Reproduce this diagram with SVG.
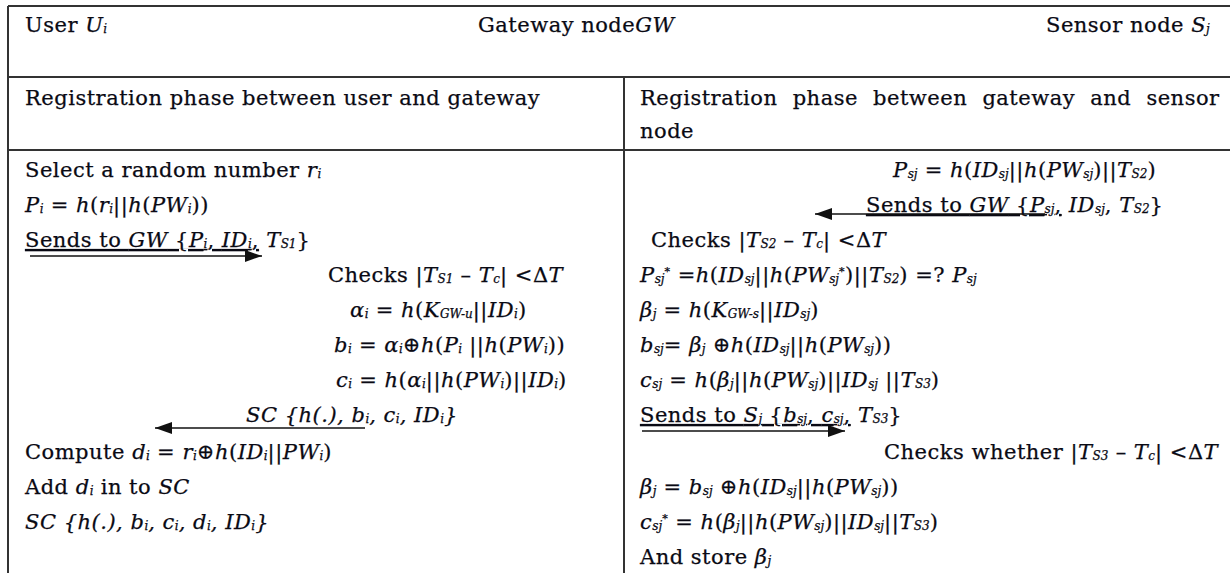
<svg xmlns="http://www.w3.org/2000/svg" width="1230" height="573" viewBox="0 0 1230 573">
<style>
.bg{fill:#ffffff}
.grid{stroke:#333;stroke-width:2;fill:none}
.t{font-family:"DejaVu Serif","Liberation Serif",serif;font-size:21px;letter-spacing:0.5px;fill:#0a0a14;stroke:#0a0a14;stroke-width:0.25}
.i{font-style:italic}
.s{font-size:12px;letter-spacing:0;baseline-shift:-1px}
.p{font-size:11px;baseline-shift:7px}
.u{text-decoration:underline}
.arr{stroke:#111;stroke-width:1.6;fill:none}
</style>
<defs>
<marker id="ah" markerUnits="userSpaceOnUse" markerWidth="18" markerHeight="12" refX="17" refY="6" orient="auto">
<path d="M0,0 L17,6 L0,12 Z" fill="#111"/>
</marker>
</defs>
<rect class="bg" x="0" y="0" width="1230" height="573"/>
<g id="table">
<line class="grid" x1="8" y1="6" x2="1230" y2="6"/>
<line class="grid" x1="8" y1="6" x2="8" y2="573"/>
<line class="grid" x1="8" y1="77" x2="1230" y2="77"/>
<line class="grid" x1="8" y1="150" x2="1230" y2="150"/>
<line class="grid" x1="624" y1="77" x2="624" y2="573"/>
</g>
<g id="header" class="t">
<text x="25" y="32">User <tspan class="i">U</tspan><tspan class="i s">i</tspan></text>
<text x="478" y="32">Gateway node<tspan class="i">GW</tspan></text>
<text x="1046" y="32">Sensor node <tspan class="i">S</tspan><tspan class="i s">j</tspan></text>
</g>
<g id="phase-user" class="t">
<text x="25" y="105">Registration phase between user and gateway</text>
</g>
<g id="phase-sensor" class="t">
<text x="640" y="105" word-spacing="8">Registration phase between gateway and sensor</text>
<text x="640" y="138">node</text>
</g>
<g id="user-gateway" class="t">
<text x="25" y="177">Select a random number <tspan class="i">r</tspan><tspan class="i s">i</tspan></text>
<text x="25" y="212"><tspan class="i">P</tspan><tspan class="i s">i</tspan> = <tspan class="i">h</tspan>(<tspan class="i">r</tspan><tspan class="i s">i</tspan>||<tspan class="i">h</tspan>(<tspan class="i">PW</tspan><tspan class="i s">i</tspan>))</text>
<text x="25" y="247"><tspan class="u">Sends to <tspan class="i">GW</tspan> {<tspan class="i">P</tspan><tspan class="i s">i</tspan>, <tspan class="i">ID</tspan><tspan class="i s">i</tspan>,</tspan> <tspan class="i">T</tspan><tspan class="i s">S1</tspan>}</text>
<text x="328" y="282">Checks |<tspan class="i">T</tspan><tspan class="i s">S1</tspan> – <tspan class="i">T</tspan><tspan class="i s">c</tspan>| &lt;Δ<tspan class="i">T</tspan></text>
<text x="350" y="317"><tspan class="i">α</tspan><tspan class="i s">i</tspan> = <tspan class="i">h</tspan>(<tspan class="i">K</tspan><tspan class="i s">GW-u</tspan>||<tspan class="i">ID</tspan><tspan class="i s">i</tspan>)</text>
<text x="334" y="352"><tspan class="i">b</tspan><tspan class="i s">i</tspan> = <tspan class="i">α</tspan><tspan class="i s">i</tspan>⊕<tspan class="i">h</tspan>(<tspan class="i">P</tspan><tspan class="i s">i</tspan> ||<tspan class="i">h</tspan>(<tspan class="i">PW</tspan><tspan class="i s">i</tspan>))</text>
<text x="336" y="387"><tspan class="i">c</tspan><tspan class="i s">i</tspan> = <tspan class="i">h</tspan>(<tspan class="i">α</tspan><tspan class="i s">i</tspan>||<tspan class="i">h</tspan>(<tspan class="i">PW</tspan><tspan class="i s">i</tspan>)||<tspan class="i">ID</tspan><tspan class="i s">i</tspan>)</text>
<text x="246" y="422" class="i">SC {h(.), b<tspan class="s">i</tspan>, c<tspan class="s">i</tspan>, ID<tspan class="s">i</tspan>}</text>
<text x="25" y="459">Compute <tspan class="i">d</tspan><tspan class="i s">i</tspan> = <tspan class="i">r</tspan><tspan class="i s">i</tspan>⊕<tspan class="i">h</tspan>(<tspan class="i">ID</tspan><tspan class="i s">i</tspan>||<tspan class="i">PW</tspan><tspan class="i s">i</tspan>)</text>
<text x="25" y="494">Add <tspan class="i">d</tspan><tspan class="i s">i</tspan> in to <tspan class="i">SC</tspan></text>
<text x="25" y="529" class="i">SC {h(.), b<tspan class="s">i</tspan>, c<tspan class="s">i</tspan>, d<tspan class="s">i</tspan>, ID<tspan class="s">i</tspan>}</text>
</g>
<g id="gateway-sensor" class="t">
<text x="893" y="177"><tspan class="i">P</tspan><tspan class="i s">sj</tspan> = <tspan class="i">h</tspan>(<tspan class="i">ID</tspan><tspan class="i s">sj</tspan>||<tspan class="i">h</tspan>(<tspan class="i">PW</tspan><tspan class="i s">sj</tspan>)||<tspan class="i">T</tspan><tspan class="i s">S2</tspan>)</text>
<text x="866" y="212"><tspan class="u">Sends to <tspan class="i">GW</tspan> {<tspan class="i">P</tspan><tspan class="i s">sj</tspan>,</tspan> <tspan class="i">ID</tspan><tspan class="i s">sj</tspan>, <tspan class="i">T</tspan><tspan class="i s">S2</tspan>}</text>
<text x="651" y="247">Checks |<tspan class="i">T</tspan><tspan class="i s">S2</tspan> – <tspan class="i">T</tspan><tspan class="i s">c</tspan>| &lt;Δ<tspan class="i">T</tspan></text>
<text x="640" y="282"><tspan class="i">P</tspan><tspan class="i s">sj</tspan><tspan class="p">*</tspan> =<tspan class="i">h</tspan>(<tspan class="i">ID</tspan><tspan class="i s">sj</tspan>||<tspan class="i">h</tspan>(<tspan class="i">PW</tspan><tspan class="i s">sj</tspan><tspan class="p">*</tspan>)||<tspan class="i">T</tspan><tspan class="i s">S2</tspan>) =? <tspan class="i">P</tspan><tspan class="i s">sj</tspan></text>
<text x="640" y="317"><tspan class="i">β</tspan><tspan class="i s">j</tspan> = <tspan class="i">h</tspan>(<tspan class="i">K</tspan><tspan class="i s">GW-s</tspan>||<tspan class="i">ID</tspan><tspan class="i s">sj</tspan>)</text>
<text x="640" y="352"><tspan class="i">b</tspan><tspan class="i s">sj</tspan>= <tspan class="i">β</tspan><tspan class="i s">j</tspan> ⊕<tspan class="i">h</tspan>(<tspan class="i">ID</tspan><tspan class="i s">sj</tspan>||<tspan class="i">h</tspan>(<tspan class="i">PW</tspan><tspan class="i s">sj</tspan>))</text>
<text x="640" y="387"><tspan class="i">c</tspan><tspan class="i s">sj</tspan> = <tspan class="i">h</tspan>(<tspan class="i">β</tspan><tspan class="i s">j</tspan>||<tspan class="i">h</tspan>(<tspan class="i">PW</tspan><tspan class="i s">sj</tspan>)||<tspan class="i">ID</tspan><tspan class="i s">sj</tspan> ||<tspan class="i">T</tspan><tspan class="i s">S3</tspan>)</text>
<text x="640" y="422"><tspan class="u">Sends to <tspan class="i">S</tspan><tspan class="i s">j</tspan> {<tspan class="i">b</tspan><tspan class="i s">sj</tspan>, <tspan class="i">c</tspan><tspan class="i s">sj</tspan>,</tspan> <tspan class="i">T</tspan><tspan class="i s">S3</tspan>}</text>
<text x="884" y="459">Checks whether |<tspan class="i">T</tspan><tspan class="i s">S3</tspan> – <tspan class="i">T</tspan><tspan class="i s">c</tspan>| &lt;Δ<tspan class="i">T</tspan></text>
<text x="640" y="494"><tspan class="i">β</tspan><tspan class="i s">j</tspan> = <tspan class="i">b</tspan><tspan class="i s">sj</tspan>  ⊕<tspan class="i">h</tspan>(<tspan class="i">ID</tspan><tspan class="i s">sj</tspan>||<tspan class="i">h</tspan>(<tspan class="i">PW</tspan><tspan class="i s">sj</tspan>))</text>
<text x="640" y="529"><tspan class="i">c</tspan><tspan class="i s">sj</tspan><tspan class="p">*</tspan> = <tspan class="i">h</tspan>(<tspan class="i">β</tspan><tspan class="i s">j</tspan>||<tspan class="i">h</tspan>(<tspan class="i">PW</tspan><tspan class="i s">sj</tspan>)||<tspan class="i">ID</tspan><tspan class="i s">sj</tspan>||<tspan class="i">T</tspan><tspan class="i s">S3</tspan>)</text>
<text x="640" y="564">And store <tspan class="i">β</tspan><tspan class="i s">j</tspan></text>
</g>
<g id="connectors">
<line class="arr" x1="30" y1="256" x2="262" y2="256" marker-end="url(#ah)"/>
<line class="arr" x1="365" y1="428" x2="155" y2="428" marker-end="url(#ah)"/>
<line class="arr" x1="1045" y1="214" x2="815" y2="214" marker-end="url(#ah)"/>
<line class="arr" x1="642" y1="431" x2="845" y2="431" marker-end="url(#ah)"/>
</g>
</svg>
